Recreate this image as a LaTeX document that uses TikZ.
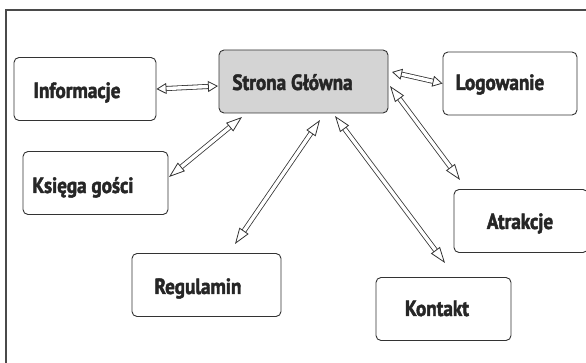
\documentclass[tikz,border=0pt]{standalone}
\usepackage{fontspec}
\setsansfont{PT Sans}[FakeStretch=0.87, BoldFeatures={FakeBold=2}]
\usetikzlibrary{arrows.meta}
\definecolor{mapedge}{HTML}{333333}
\definecolor{mapgray}{HTML}{D4D4D4}
\definecolor{mapframe}{HTML}{4A4A4A}

\begin{document}
\begin{tikzpicture}[
  x=1pt, y=-1pt,
  font=\sffamily\bfseries\fontsize{22}{24}\selectfont,
  page/.style={draw=mapedge, line width=0.9pt, fill=white, rounded corners=5pt,
    minimum width=#1, minimum height=63pt, inner sep=0pt},
  page/.default=142pt,
  txt/.style={text=black!85, inner sep=0pt, anchor=base},
  link/.style={draw=mapedge, line width=0.8pt, double=white, double distance=3.4pt,
    {Triangle[open, length=#1, width=11pt, line width=0.8pt]}-{Triangle[open, length=#1, width=11pt, line width=0.8pt]}},
  link/.default=16pt,
]
\useasboundingbox (0,0) rectangle (586,363);
% frame
\draw[mapframe, line width=1.4pt] (6,370) -- (6,10) -- (590,10);

% boxes
\node[page, fill=mapgray, minimum width=169pt] (home) at (303.5,81.5) {};
\node[page] (info) at (85,89) {};
\node[page=134pt] (login) at (510,83.5) {};
\node[page=145pt] (guest) at (95.5,183) {};
\node[page=149pt] (rules) at (206.5,285) {};
\node[page=134pt] (attr) at (521,221) {};
\node[page=135pt] (contact) at (443.5,309) {};

% labels
\node[txt] (homeT) at (292.5,90) {Strona Główna};
\node[txt] (infoT) at (77,98) {Informacje};
\node[txt] (loginT) at (500,90) {Logowanie};
\node[txt] (guestT) at (83,193) {Księga gości};
\node[txt] (rulesT) at (198,294) {Regulamin};
\node[txt] (attrT) at (520,229) {Atrakcje};
\node[txt] (contactT) at (437,316) {Kontakt};

% arrow ends
\coordinate (home-w) at (218,86);
\coordinate (home-e) at (392,72);
\coordinate (home-sw) at (242,117);
\coordinate (home-s1) at (320,120);
\coordinate (home-s2) at (335,116);
\coordinate (home-se) at (390,86);
\coordinate (guest-ne) at (169,177);
\coordinate (rules-n) at (235,244);
\coordinate (contact-n) at (445,263);
\coordinate (attr-nw) at (460,180);

\draw[link=10pt] (info.east) -- (home-w);
\draw[link=10pt] (home-e) -- (login.west);
\draw[link] (guest-ne) -- (home-sw);
\draw[link] (home-s1) -- (rules-n);
\draw[link] (home-s2) -- (contact-n);
\draw[link] (home-se) -- (attr-nw);
\end{tikzpicture}
\end{document}
